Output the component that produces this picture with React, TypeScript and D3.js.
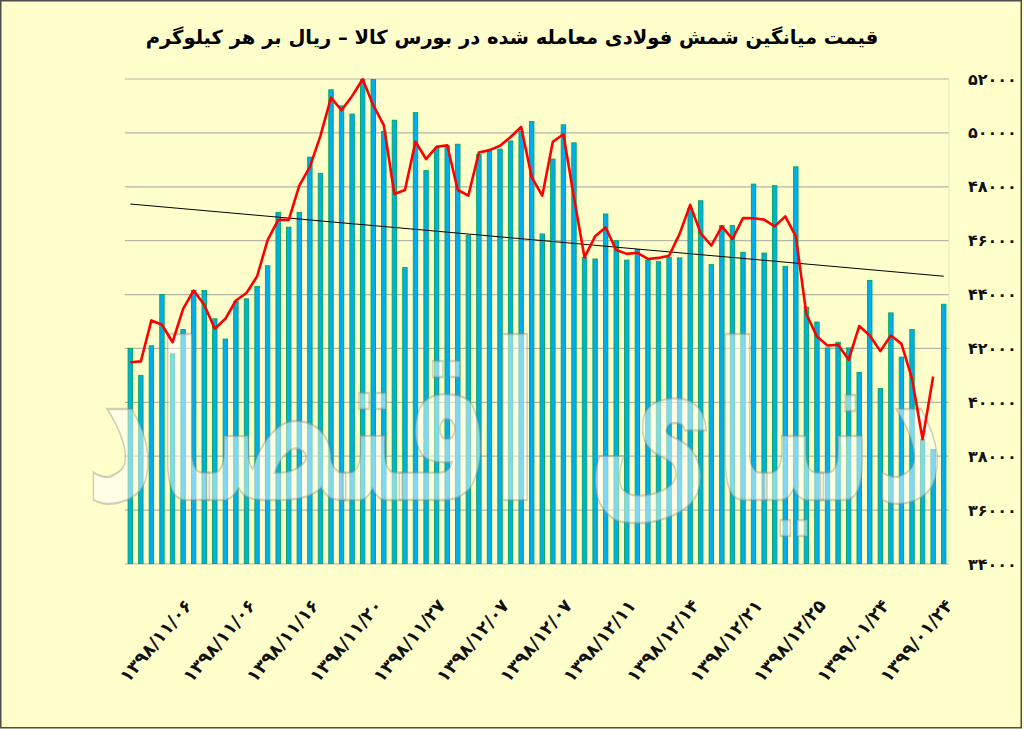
import React, { useLayoutEffect, useRef, useState } from 'react';
import * as d3 from 'd3';

// average price of steel billet traded on the commodity exchange (rial / kg)
const tickLabels = [
  '۱۳۹۸/۱۱/۰۶', '۱۳۹۸/۱۱/۰۶', '۱۳۹۸/۱۱/۱۶', '۱۳۹۸/۱۱/۲۰', '۱۳۹۸/۱۱/۲۷',
  '۱۳۹۸/۱۲/۰۷', '۱۳۹۸/۱۲/۰۷', '۱۳۹۸/۱۲/۱۱', '۱۳۹۸/۱۲/۱۴', '۱۳۹۸/۱۲/۲۱',
  '۱۳۹۸/۱۲/۲۵', '۱۳۹۹/۰۱/۲۴', '۱۳۹۹/۰۱/۲۴',
];

// one bar per trading session
const barValues = [
  42000, 41000, 42100, 44000, 41800, 42700, 44150, 44150, 43100, 42350,
  43750, 43840, 44300, 45070, 47050, 46500, 47050, 49100, 48500, 51600,
  51000, 50700, 52000, 52000, 50050, 50470, 45000, 50750, 48600, 49430,
  49520, 49580, 46200, 49200, 49330, 49400, 49700, 50050, 50420, 46250,
  49030, 50300, 49630, 45380, 45320, 46990, 46000, 45280, 45670, 45280,
  45220, 45380, 45360, 47200, 47480, 45110, 46560, 46560, 45570, 48100,
  45540, 48040, 45050, 48740, 43530, 42980, 42020, 42230, 42020, 41110,
  44520, 40510, 43320, 41680, 42700, 38630, 38250, 43640,
];

// red line (one point fewer than the bars)
const lineValues = [
  41490, 41520, 43040, 42880, 42230, 43470, 44150, 43620, 42730, 43100,
  43780, 44060, 44670, 46020, 46770, 46770, 48040, 48740, 49890, 51310,
  50840, 51370, 51990, 51030, 50280, 47730, 47880, 49670, 49030, 49480,
  49540, 47880, 47670, 49270, 49360, 49520, 49850, 50220, 48350, 47670,
  49670, 49950, 47600, 45380, 46160, 46490, 45650, 45510, 45550, 45320,
  45360, 45440, 46250, 47330, 46270, 45820, 46530, 46060, 46840, 46830,
  46780, 46530, 46900, 46160, 43280, 42440, 42110, 42140, 41580, 42830,
  42480, 41900, 42480, 42170, 40880, 38630, 40960,
];

// linear trend, first and last session
const trendValues = [47360, 44680];

const width = 1024;
const height = 729;
const marginLeft = 125;
const marginRight = 75;
const plotTop = 79;
const plotBottom = 564;

const faDigits = '۰۱۲۳۴۵۶۷۸۹';
const toFa = (s: string) => s.replace(/\d/g, d => faDigits[+d]);

export default function App() {
  const markRef = useRef<SVGTextElement | null>(null);
  const [markScale, setMarkScale] = useState(1);

  // stretch the watermark to the plot width once its natural width is known
  useLayoutEffect(() => {
    if (markRef.current) {
      const w = markRef.current.getBBox().width;
      if (w > 0) setMarkScale(860 / w);
    }
  }, []);

  const idx = barValues.map((_, i) => i);

  const x = d3.scaleBand<number>()
    .domain(idx)
    .range([marginLeft, width - marginRight]);
  const step = x.step();
  const cx = (i: number) => (x(i) ?? 0) + step / 2;

  const y = d3.scaleLinear()
    .domain([34000, 52000])
    .range([plotBottom, plotTop]);

  const line = d3.line<number>()
    .x((d, i) => cx(i))
    .y(d => y(d));

  const barW = step * 0.42;

  return (
    <div style={{ position: 'absolute', left: 0, top: 0 }}>
      <svg width={width} height={height} style={{ display: 'block' }}>
        <defs>
          <clipPath id="plot">
            <rect x={marginLeft} y={plotTop} width={width - marginLeft - marginRight} height={plotBottom - plotTop} />
          </clipPath>
        </defs>
        <rect x={0} y={0} width={width} height={height} fill="#FFFFCC" />
        <rect x={0.75} y={0.75} width={1020.5} height={727} fill="none" stroke="#4d4d4d" strokeWidth={1.5} />

        {/* title */}
        <text x={512} y={44} textAnchor="middle" direction="rtl"
          fontFamily="DejaVu Sans" fontSize={19.5} fontWeight="bold" fill="#000">
          قیمت میانگین شمش فولادی معامله شده در بورس کالا – ریال بر هر کیلوگرم
        </text>

        {/* grid */}
        <g stroke="#b5b5a8" strokeWidth={1.2}>
          {y.ticks(10).map(t => (
            <line key={t} x1={marginLeft} x2={width - marginRight} y1={y(t)} y2={y(t)} />
          ))}
        </g>
        <line x1={width - marginRight} x2={width - marginRight} y1={plotTop} y2={plotBottom} stroke="#e6e6c8" />

        {/* y tick labels */}
        <g fontFamily="DejaVu Sans" fontSize={16} fontWeight="bold" fill="#111">
          {y.ticks(10).map(t => (
            <text key={t} x={968} y={y(t)} dy="0.35em" direction="ltr">{toFa(String(t))}</text>
          ))}
        </g>

        {/* bars */}
        <g clipPath="url(#plot)" fill="#00AEEF" stroke="#00A651" strokeWidth={0.9}>
          {barValues.map((v, i) => (
            <rect key={i} x={cx(i) - barW / 2} y={y(v)} width={barW} height={plotBottom - y(v)} />
          ))}
        </g>

        {/* trend */}
        <line x1={cx(0)} x2={cx(barValues.length - 1)} y1={y(trendValues[0])} y2={y(trendValues[1])}
          stroke="#000" strokeWidth={1} />

        {/* watermark */}
        <g transform={`translate(515,500) scale(${markScale},1.15)`}>
          <text ref={markRef} x={0} y={0} textAnchor="middle" direction="rtl" fontFamily="DejaVu Sans"
            fontWeight="bold" fontSize={190}
            fill="#ffffff" fillOpacity={0.5} stroke="#8a8a80" strokeOpacity={0.4} strokeWidth={2}>
            دنیای اقتصاد
          </text>
        </g>

        {/* red line */}
        <path d={line(lineValues) || ''} fill="none" stroke="#FF0000" strokeWidth={2.6} strokeLinejoin="round" />

        {/* x tick labels, every 6th session */}
        <g fontFamily="DejaVu Sans" fontSize={18} fontWeight="bold" fill="#111" letterSpacing={1.6}>
          {tickLabels.map((t, k) => {
            const i = k * 6 + 5;
            const px = cx(i) + 10;
            const py = 606;
            return (
              <text key={k} x={px} y={py} textAnchor="end" direction="ltr"
                transform={`rotate(-50, ${px}, ${py})`}>{t}</text>
            );
          })}
        </g>
      </svg>
    </div>
  );
}
